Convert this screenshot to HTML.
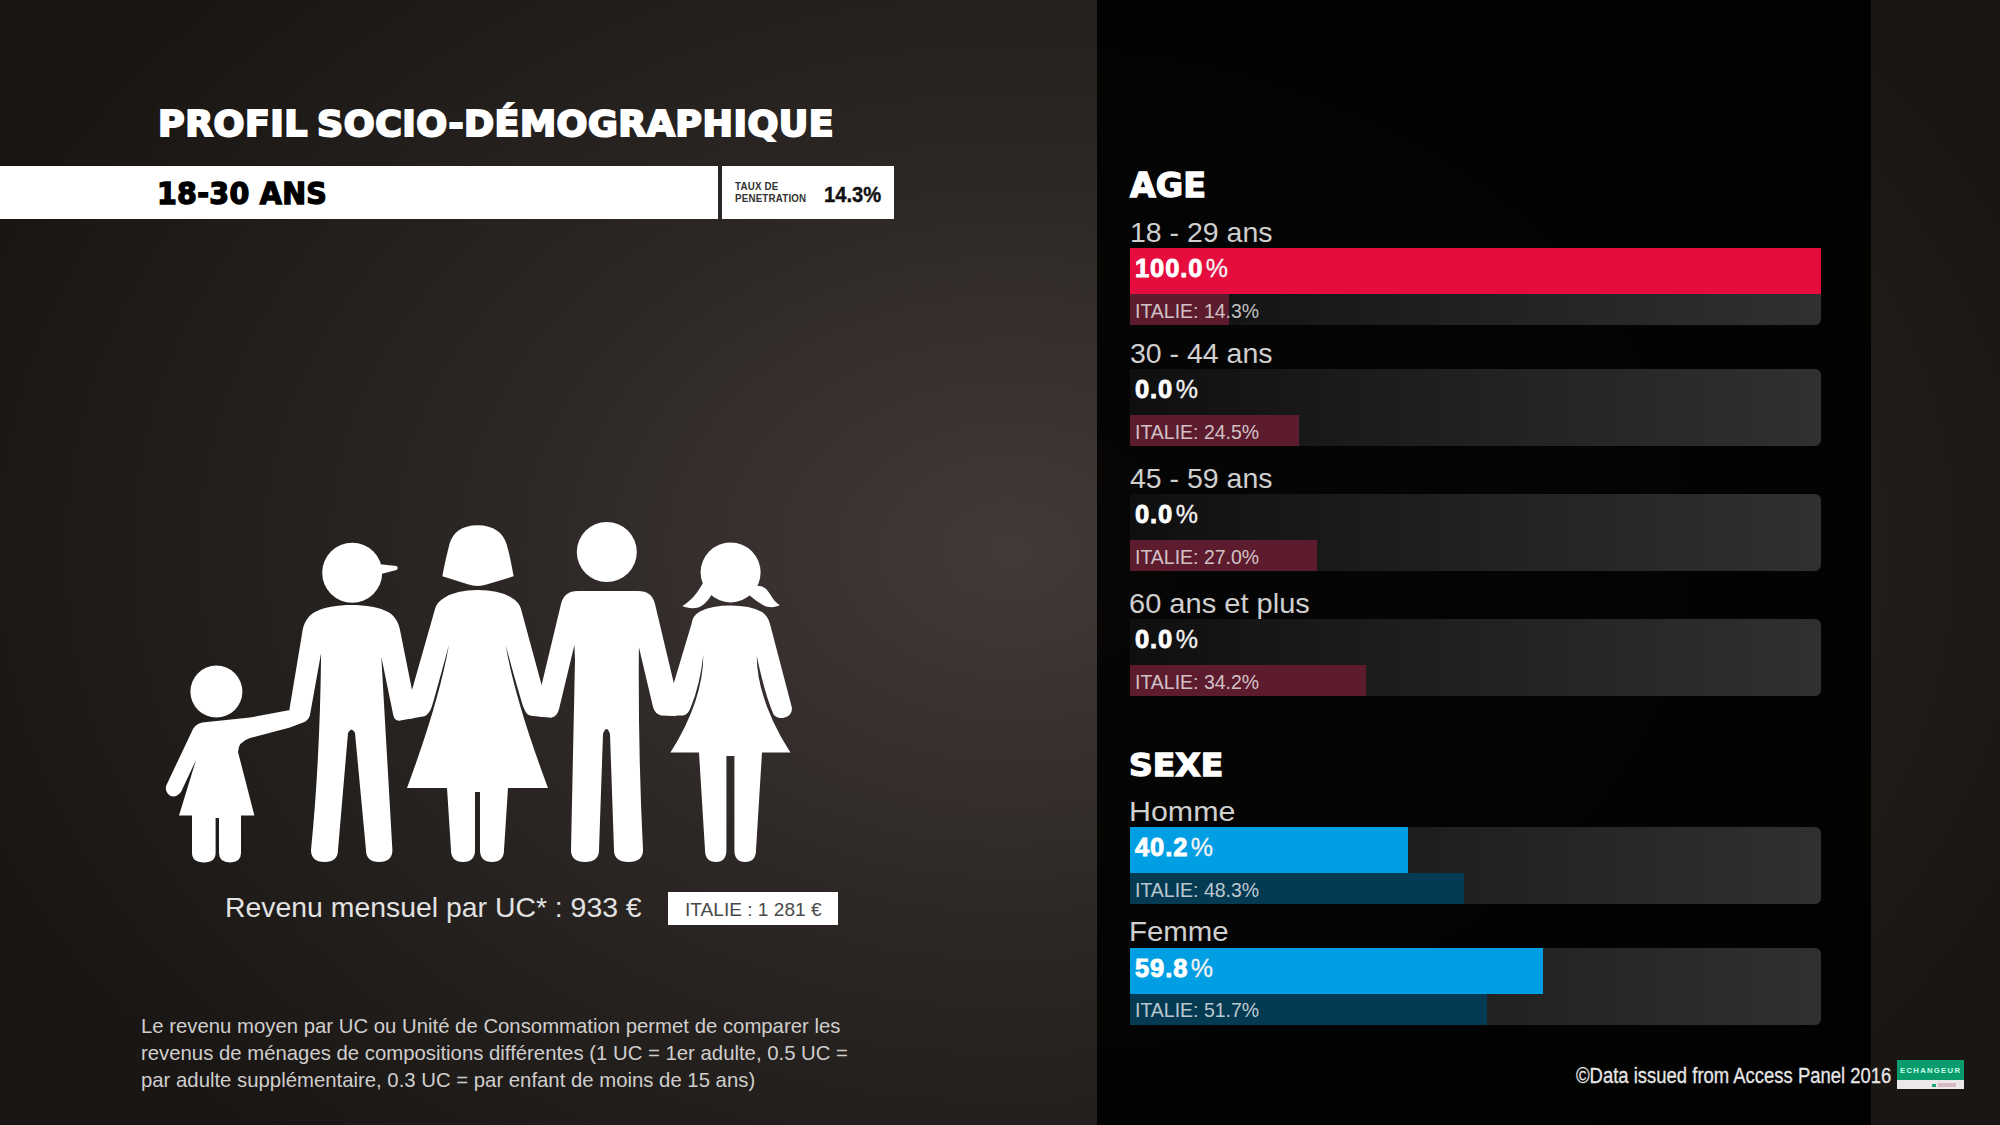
<!DOCTYPE html>
<html lang="fr">
<head>
<meta charset="utf-8">
<title>Profil socio-démographique</title>
<style>
html,body{margin:0;padding:0;}
body{width:2000px;height:1125px;overflow:hidden;position:relative;background:#1b1715;font-family:"Liberation Sans",sans-serif;color:#fff;}
#bg{position:absolute;left:0;top:0;width:2000px;height:1125px;
 background:radial-gradient(ellipse 1080px 800px at 1010px 550px,#433937 0%,#3b3332 16%,#2d2826 45%,#231f1d 72%,#1a1614 100%);}
#panel{position:absolute;left:1097px;top:0;width:774px;height:1125px;background:rgba(0,0,0,0.885);}
.abs{position:absolute;white-space:nowrap;line-height:1;}
.hv{font-family:"DejaVu Sans","Liberation Sans",sans-serif;font-weight:bold;}
#title{left:157.5px;top:106px;font-size:36px;color:#fff;transform-origin:0 0;transform:scaleX(1.009);-webkit-text-stroke:2.1px #fff;letter-spacing:.5px;word-spacing:-4px;}
#bar1{position:absolute;left:0;top:166px;width:717.5px;height:52.5px;background:#fff;}
#bar2{position:absolute;left:722px;top:166px;width:171.5px;height:52.5px;background:#fff;}
#sub{left:156.5px;top:180px;font-size:29.5px;color:#000;transform-origin:0 0;transform:scaleX(.966);-webkit-text-stroke:1.4px #000;letter-spacing:.3px;}
#taux{left:735px;top:181.4px;font-size:10.5px;line-height:11.7px;font-weight:bold;color:#333;transform-origin:0 0;transform:scaleX(.93);letter-spacing:.2px}
#tauxv{left:824px;top:183.6px;font-size:22px;font-weight:bold;color:#111;transform-origin:0 0;transform:scaleX(.916);-webkit-text-stroke:.4px #111;}
.h2{left:1130px;font-size:32px;transform-origin:0 0;transform:scaleX(1.04);-webkit-text-stroke:1.4px #fff;}
.lbl{left:1130px;font-size:28px;color:#cfcfcf;transform-origin:0 0;transform:scaleX(1.017);}
.track{position:absolute;left:1130px;width:691px;height:77px;border-radius:0 6px 6px 0;background:linear-gradient(90deg,#0f0f0f 0%,#1a1a1a 30%,#242424 60%,#303030 100%);}
.fill{position:absolute;left:0;top:0;height:46px;}
.it{position:absolute;left:0;top:46px;height:31px;}
.red .fill{background:#e40d3e;} .red .it{background:#5c1c2e;}
.blue .fill{background:#009fe3;} .blue .it{background:#043a52;}
.val{position:absolute;left:5px;top:8px;font-family:"Liberation Sans",sans-serif;font-weight:bold;font-size:25.5px;line-height:1;white-space:nowrap;-webkit-text-stroke:.9px #fff;letter-spacing:.9px;}
.val i{font-style:normal;font-weight:normal;-webkit-text-stroke:.3px #f2f2f2;font-size:25px;margin-left:2.5px;color:#f2f2f2;letter-spacing:0}
.itx{position:absolute;left:4.5px;top:51.5px;font-size:21px;line-height:1;color:rgba(255,255,255,.74);white-space:nowrap;transform-origin:0 0;transform:scaleX(.927);}
#rev{left:224.6px;top:894px;font-size:28px;color:#e2e2e2;transform-origin:0 0;transform:scaleX(1.014);}
#itbox{position:absolute;left:667.8px;top:891.7px;width:170px;height:33px;background:#fff;}
#ittx{left:684.8px;top:899.7px;font-size:19px;color:#4a4a4a;transform-origin:0 0;transform:scaleX(1.005);}
#note{position:absolute;left:140.5px;top:1012.3px;font-size:21px;line-height:27px;color:#d0cecd;white-space:nowrap;transform-origin:0 0;transform:scaleX(.968);}
#copy{left:1575.5px;top:1063.5px;font-size:22.8px;color:#e6e6e6;transform-origin:0 0;transform:scaleX(.81);-webkit-text-stroke:.3px #e6e6e6;}
#logo{position:absolute;left:1896.5px;top:1060px;width:67px;height:29px;background:#ece7e8;}
#logo .g{position:absolute;left:0;top:0;width:67px;height:20px;background:#0a9b6c;}
#logo .t{position:absolute;left:3.5px;top:6.6px;font-size:7.7px;font-weight:bold;color:#c8ffec;letter-spacing:1.3px;line-height:1;white-space:nowrap;}
#logo .q{position:absolute;left:35px;top:23.5px;width:4px;height:3.5px;background:#1aa877;}
#logo .r{position:absolute;left:41px;top:23px;width:18px;height:4px;background:#d9b9c0;}
</style>
</head>
<body>
<div id="bg"></div>
<div id="panel"></div>

<div id="title" class="abs hv">PROFIL SOCIO-DÉMOGRAPHIQUE</div>
<div id="bar1"></div><div id="bar2"></div>
<div id="sub" class="abs hv">18-30 ANS</div>
<div id="taux" class="abs">TAUX DE<br>PENETRATION</div>
<div id="tauxv" class="abs">14.3%</div>

<!--FAMILY-->
<svg id="fam" viewBox="150 510 660 365" width="660" height="365" style="position:absolute;left:150px;top:510px" fill="#fff">
<!-- child -->
<circle cx="216.4" cy="691.6" r="26"/>
<path d="M193,729 Q197,722 207,722 L250,717.5 L290,710 L306,721 L290,727.5 L250,738 Q238,742 238,752 L254.4,815.6 L241,815.6 L241,853 Q241,862.4 230,862.4 Q219,862.4 219,853 L219,818 L215.6,818 L215.6,853 Q215.6,862.4 204,862.4 Q192,862.4 192,853 L192,815.6 L179,815.6 L196,760 L181,792 Q174,800 168,794 Q164.5,790 166.5,785 Z"/>
<!-- man with cap -->
<circle cx="352.2" cy="572.7" r="30"/>
<path d="M378,564 L396.5,566 Q399,568 396.5,570 L381,574 Z"/>
<path d="M351.3,604.9 C365,604.9 380,607 389,612.5 C395,616.5 398.5,622 400,630 L412,690 L417,712 L414,718 L399,720.8 Q394.5,720.5 393.3,715.3 L381.3,656.7 L392.4,850 Q392.4,862 379,862 Q366,862 366,850 L355,733 Q351.5,726 348,733 L338,850 Q338,862 324.5,862 Q311,862 311,850 Q320,760 321.1,653 L310.5,712 Q310,720 303,722.5 L293,726 L289.5,709 L302,634 C303,624 307,617 314,612.5 C323,607 338,604.9 351.3,604.9 Z"/>
<!-- woman -->
<path d="M442.4,576.3 C444,567 446,558 449.6,543.4 C453,533 461,525.2 477.6,525.2 C494,525.2 503,533 506.4,543.4 C510,556 512,567 513.6,576.3 L487.3,584.3 Q477.6,587.8 467.8,584.3 Z"/>
<path d="M478,590 Q500,590 512,598 Q519,602 521,609 L541.6,685 L548,712 L545,717.3 L531,715.7 Q526.5,715 524.7,710 L522.6,705 Q515.1,680 505.6,645 Q515.1,700 548,788 L508,788 L504,850 Q504,862 492,862 Q480,862 480,850 L480,792 L475,792 L475,850 Q475,862 463,862 Q451,862 451,850 L447,788 L407,788 Q439.5,700 448.9,645 Q439.5,680 432.4,704.7 Q430,713.5 424.4,716.2 L408,719 L412,690 L435,609 Q437,602 444,598 Q456,590 478,590 Z"/>
<!-- man 2 -->
<circle cx="606.8" cy="552" r="30"/>
<path d="M578,591 L638,591 Q652,591 655,604 L674,684 L680,712 L676,716 L661,715.4 Q655,714 653.1,707.3 L638.9,647.3 Q638,750 643,850 Q643,862 628.5,862 Q614,862 614,850 L610,734 Q606.5,724 603,734 L599,850 Q599,862 585,862 Q571,862 571,850 L575,660 L574.4,645 L559.3,708 Q557.5,716.5 551,717.8 L540,716.5 L541.6,685 L561,604 Q564,591 578,591 Z"/>
<!-- girl -->
<circle cx="730.6" cy="572.4" r="30"/>
<path d="M706,582 L702.4,584 C698,592 691,601 682.4,606 C688,608.5 697,610 703.5,604.5 C707,601.5 709.5,598.5 711,595.5 L714,593 Z"/>
<path d="M754,584 L758,586 C764,585.5 768,590 772.2,597.6 C774.5,601 777,603.5 779.8,605.1 C775,608 768,608 763,605 C758,602 753.5,599 750,595.8 L747,593 Z"/>
<path d="M730.6,605.6 Q750,605.6 762,612 Q768,616 770,624 L791.8,707.3 Q793,716 783,718 Q776,718 773.6,714.4 Q765,695 756.7,655.8 Q757,700 790.4,752.6 L762,752.6 L756,850 Q756,862 745,862 Q734.4,862 734.4,850 L734.4,756 L726.4,756 L726.4,850 Q726.4,862 716,862 Q705,862 705,850 L699,752.6 L670.4,752.6 Q703.5,700 703.3,654.9 Q700,685 690.4,708.2 Q688,714.5 683,715.5 L668,715.5 L673.1,685.6 L691.5,624 Q692.5,615.5 700,611.5 Q712,605.6 730.6,605.6 Z"/>
</svg>
<!--/FAMILY-->

<div id="rev" class="abs">Revenu mensuel par UC* : 933 €</div>
<div id="itbox"></div>
<div id="ittx" class="abs">ITALIE : 1 281 €</div>
<div id="note">Le revenu moyen par UC ou Unité de Consommation permet de comparer les<br>revenus de ménages de compositions différentes (1 UC = 1er adulte, 0.5 UC =<br>par adulte supplémentaire, 0.3 UC = par enfant de moins de 15 ans)</div>

<div class="abs hv h2" style="top:168.7px;left:1130px;font-size:33px;transform:scaleX(1.01)">AGE</div>
<div class="abs lbl" style="top:219.2px">18 - 29 ans</div>
<div class="track red" style="top:248px"><div class="fill" style="width:691px"></div><div class="it" style="width:99px"></div><div class="val">100.0<i>%</i></div><div class="itx">ITALIE: 14.3%</div></div>
<div class="abs lbl" style="top:339.7px">30 - 44 ans</div>
<div class="track red" style="top:369px"><div class="it" style="width:169px"></div><div class="val">0.0<i>%</i></div><div class="itx">ITALIE: 24.5%</div></div>
<div class="abs lbl" style="top:464.7px">45 - 59 ans</div>
<div class="track red" style="top:494px"><div class="it" style="width:187px"></div><div class="val">0.0<i>%</i></div><div class="itx">ITALIE: 27.0%</div></div>
<div class="abs lbl" style="top:589.7px;left:1129px;transform:scaleX(1.037)">60 ans et plus</div>
<div class="track red" style="top:619px"><div class="it" style="width:236px"></div><div class="val">0.0<i>%</i></div><div class="itx">ITALIE: 34.2%</div></div>

<div class="abs hv h2" style="top:748.5px;left:1129px;transform:scaleX(1.03)">SEXE</div>
<div class="abs lbl" style="top:797.7px;left:1128.5px;transform:scaleX(1.085)">Homme</div>
<div class="track blue" style="top:827px"><div class="fill" style="width:278px"></div><div class="it" style="width:334px"></div><div class="val">40.2<i>%</i></div><div class="itx">ITALIE: 48.3%</div></div>
<div class="abs lbl" style="top:917.7px;left:1128.5px;transform:scaleX(1.051)">Femme</div>
<div class="track blue" style="top:947.5px"><div class="fill" style="width:413px"></div><div class="it" style="width:357px"></div><div class="val">59.8<i>%</i></div><div class="itx">ITALIE: 51.7%</div></div>

<div id="copy" class="abs">©Data issued from Access Panel 2016</div>
<div id="logo"><div class="g"></div><div class="t">ECHANGEUR</div><div class="q"></div><div class="r"></div></div>
</body>
</html>
